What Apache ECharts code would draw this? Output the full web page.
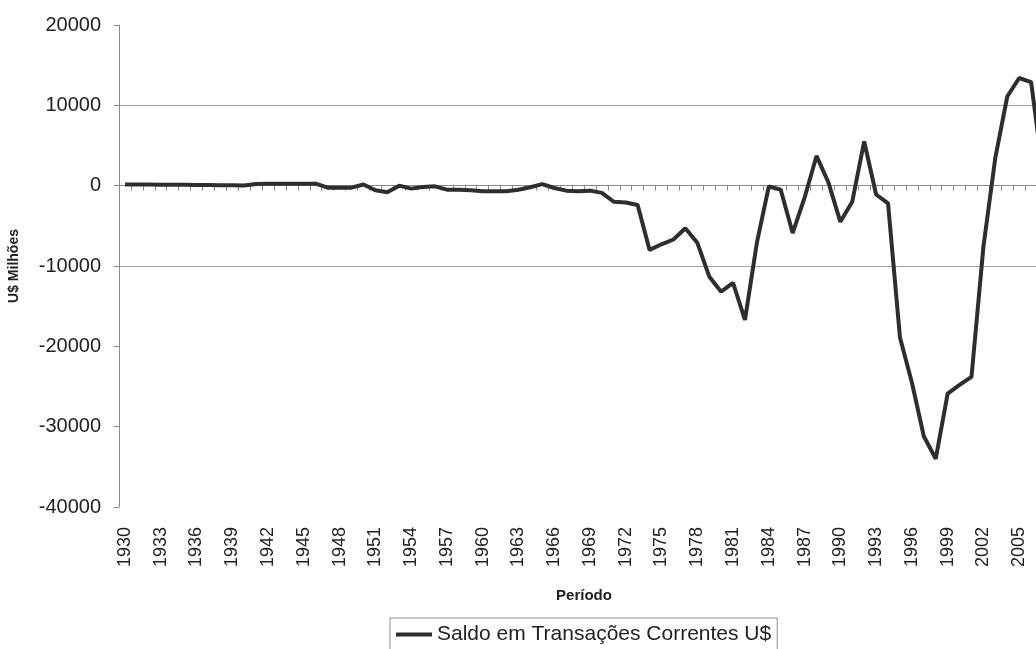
<!DOCTYPE html>
<html>
<head>
<meta charset="utf-8">
<script src="https://cdn.jsdelivr.net/npm/echarts@6/dist/echarts.min.js"></script>
<style>
  html, body { margin: 0; padding: 0; background: #ffffff; }
  #chart { width: 1036px; height: 649px; }
</style>
</head>
<body>
<div id="chart"></div>
<script>
// Brazilian current account balance, US$ millions, 1930-2007
const years = [];
for (let y = 1930; y <= 2007; y++) years.push(String(y));

const saldo = [
  150, 140, 130, 120, 110, 100, 90, 70, 50, 40,          // 1930-1939
  20, 200, 250, 250, 250, 250, 250, -250, -250, -250,     // 1940-1949
  150, -580, -830, 0, -370, -170, -80, -500, -500, -580,  // 1950-1959
  -700, -700, -700, -500, -200, 200, -290, -620, -700, -620, // 1960-1969
  -900, -2000, -2100, -2400, -8000, -7300, -6700, -5300, -7100, -11300, // 1970-1979
  -13200, -12100, -16700, -7100, -100, -500, -5900, -1500, 3700, 400,   // 1980-1989
  -4500, -2000, 5500, -1100, -2200, -18900, -24500, -31200, -34000, -25900, // 1990-1999
  -24800, -23800, -7600, 3500, 11100, 13400, 12900, 1550  // 2000-2007
];

const yTicks = { min: -40000, max: 20000, step: 10000 };

const seriesName = 'Saldo em Transações Correntes U$';
const fontFamily = '"Liberation Sans", Arial, sans-serif';

const chart = echarts.init(document.getElementById('chart'), null, { renderer: 'canvas' });

chart.setOption({
  animation: false,
  backgroundColor: '#ffffff',
  grid: {
    left: 119, top: 25, bottom: 142, right: -13,
    containLabel: false, outerBoundsMode: 'none'
  },
  legend: {
    data: [seriesName],
    left: 390, top: 618,
    orient: 'horizontal',
    icon: 'rect',
    itemWidth: 36, itemHeight: 4, itemGap: 6,
    padding: [6, 6, 10, 6],
    borderColor: '#8a8a8a', borderWidth: 1,
    textStyle: { fontFamily, fontSize: 21, color: '#222' }
  },
  xAxis: [
    {
      type: 'category',
      data: years,
      position: 'bottom',
      boundaryGap: true,
      axisLine: { show: false, onZero: false },
      axisTick: { show: false },
      axisLabel: {
        interval: 2, rotate: 90, margin: 20,
        fontFamily, fontSize: 18, color: '#222'
      },
      name: 'Período',
      nameLocation: 'middle',
      nameGap: 81,
      nameTextStyle: { fontFamily, fontSize: 15, fontWeight: 'bold', color: '#222' }
    },
    {
      type: 'category',
      data: years,
      position: 'top',
      boundaryGap: true,
      axisLine: { show: true, onZero: true, lineStyle: { color: '#8a8a8a', width: 1 } },
      axisTick: { show: true, inside: true, interval: 0, length: 5, lineStyle: { color: '#8a8a8a' } },
      axisLabel: { show: false }
    }
  ],
  yAxis: {
    type: 'value',
    min: yTicks.min, max: yTicks.max, interval: yTicks.step,
    axisLine: { show: true, lineStyle: { color: '#8a8a8a', width: 1 } },
    axisTick: { show: true, length: 5, lineStyle: { color: '#8a8a8a' } },
    axisLabel: {
      margin: 18, fontFamily, fontSize: 20, color: '#222',
      formatter: (v) => String(v)
    },
    splitLine: {
      show: true,
      lineStyle: {
        width: 1,
        color: ['rgba(0,0,0,0)', 'rgba(0,0,0,0)', 'rgba(0,0,0,0)', '#a0a0a0',
                'rgba(0,0,0,0)', '#a0a0a0', 'rgba(0,0,0,0)']
      }
    },
    name: 'U$ Milhões',
    nameLocation: 'middle',
    nameGap: 98,
    nameRotate: 90,
    nameTextStyle: { fontFamily, fontSize: 14, fontWeight: 'bold', color: '#222' }
  },
  series: [
    {
      name: seriesName,
      type: 'line',
      xAxisIndex: 0,
      data: saldo,
      symbol: 'none',
      lineStyle: { color: '#2e2e2e', width: 4 },
      itemStyle: { color: '#2e2e2e' }
    }
  ]
});
</script>
</body>
</html>
